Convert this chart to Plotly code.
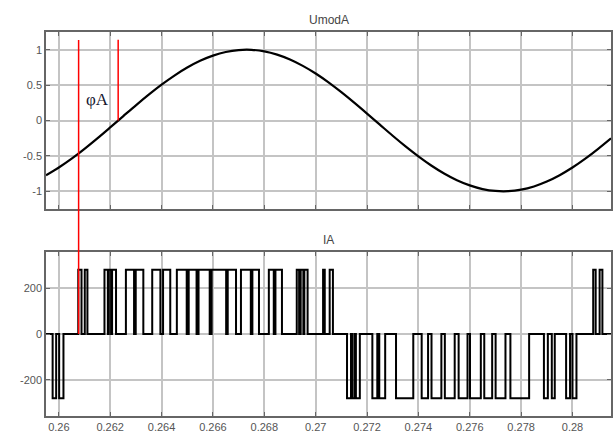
import plotly.graph_objects as go
from plotly.subplots import make_subplots

# ---- Top panel: modulating signal UmodA ----
umod_t = [0.2595 + 0.0005 * i for i in range(45)]
umod_v = [-0.773, -0.664, -0.539, -0.400, -0.252, -0.098, 0.059, 0.215, 0.365,
          0.506, 0.635, 0.748, 0.843, 0.916, 0.968, 0.995, 0.998, 0.977, 0.931,
          0.862, 0.772, 0.664, 0.539, 0.400, 0.252, 0.098, -0.059, -0.215,
          -0.365, -0.506, -0.635, -0.748, -0.843, -0.916, -0.968, -0.995,
          -0.998, -0.977, -0.931, -0.862, -0.772, -0.664, -0.539, -0.400,
          -0.252]

# ---- Bottom panel: phase current IA pulses (start, end, level) ----
pulse_start = [0.259758, 0.260012,
               0.260756, 0.261010, 0.261777, 0.261946, 0.262073, 0.262611,
               0.262994, 0.263636, 0.264058, 0.264595, 0.265056, 0.265440,
               0.265950, 0.266576, 0.267091, 0.267536, 0.268177, 0.268434,
               0.269264, 0.269417, 0.269559, 0.270289, 0.270546,
               0.271221, 0.271440, 0.271567, 0.272208, 0.272477, 0.273129,
               0.274128, 0.274511, 0.275030, 0.275567, 0.276009, 0.276565,
               0.277007, 0.277583, 0.278888, 0.279195, 0.279752, 0.280001,
               0.280807, 0.281057]
pulse_end = [0.259896, 0.260180,
             0.260883, 0.261113, 0.261908, 0.262035, 0.262227, 0.262929,
             0.263290, 0.263954, 0.264338, 0.264979, 0.265363, 0.265874,
             0.266515, 0.266899, 0.267475, 0.267793, 0.268369, 0.268688,
             0.269356, 0.269521, 0.269686, 0.270354, 0.270672,
             0.271375, 0.271529, 0.271720, 0.272400, 0.272707, 0.273801,
             0.274377, 0.274895, 0.275414, 0.275913, 0.276431, 0.276873,
             0.277391, 0.278312, 0.279041, 0.279310, 0.279905, 0.280155,
             0.280903, 0.281165]
pulse_level = [-280, -280] + [280] * 23 + [-280] * 18 + [280, 280]

t_start, t_end = 0.2595, 0.2815

x_ticks = [0.26, 0.262, 0.264, 0.266, 0.268, 0.27, 0.272, 0.274, 0.276, 0.278, 0.28]
x_ticktext = ["0.26", "0.262", "0.264", "0.266", "0.268", "0.27", "0.272",
              "0.274", "0.276", "0.278", "0.28"]
y1_ticks = [-1, -0.5, 0, 0.5, 1]
y1_ticktext = ["-1", "-0.5", "0", "0.5", "1"]
y2_ticks = [-200, 0, 200]
y2_ticktext = ["-200", "0", "200"]

phi_time = 0.26077     # red marker at the current start
zero_time = 0.26231    # red marker at the modulating zero crossing

# build step waveform
ia_x = [t_start]
ia_y = [0]
for s, e, lv in zip(pulse_start, pulse_end, pulse_level):
    ia_x += [s, e]
    ia_y += [lv, 0]
ia_x.append(t_end)
ia_y.append(0)

fig = make_subplots(rows=2, cols=1, shared_xaxes=False, vertical_spacing=0.1)
fig.add_trace(go.Scatter(x=umod_t, y=umod_v, mode="lines",
                         line=dict(color="black", width=2.2, shape="spline"),
                         showlegend=False), row=1, col=1)
fig.add_trace(go.Scatter(x=ia_x, y=ia_y, mode="lines",
                         line=dict(color="black", width=2, shape="hv"),
                         showlegend=False), row=2, col=1)

tickfont = dict(family="Liberation Sans, Arial", size=11, color="#555555")
axis_common = dict(showgrid=True, gridcolor="#c4c4c4", gridwidth=1.5,
                   showline=True, linecolor="#666666", linewidth=1.5,
                   mirror="ticks", ticks="inside", ticklen=4, tickcolor="#666666",
                   zeroline=False, tickfont=tickfont)

fig.update_xaxes(range=[t_start, t_end], tickvals=x_ticks, ticktext=x_ticktext,
                 **axis_common)
fig.update_xaxes(showticklabels=False, row=1, col=1)
fig.update_yaxes(range=[-1.25, 1.25], tickvals=y1_ticks, ticktext=y1_ticktext,
                 row=1, col=1, **axis_common)
fig.update_yaxes(range=[-357, 357], tickvals=y2_ticks, ticktext=y2_ticktext,
                 row=2, col=1, **axis_common)

fig.update_layout(
    width=616, height=438,
    margin=dict(l=46, r=3, t=32, b=22),
    paper_bgcolor="white", plot_bgcolor="white",
    xaxis=dict(domain=[0, 1]), yaxis=dict(domain=[0.539, 1]),
    xaxis2=dict(domain=[0, 1]), yaxis2=dict(domain=[0, 0.427]),
    annotations=[
        dict(text="UmodA", x=0.5, y=1.031, xref="paper", yref="paper",
             xanchor="center", yanchor="middle", showarrow=False,
             font=dict(family="Liberation Sans, Arial", size=12, color="#444444")),
        dict(text="IA", x=0.5, y=0.458, xref="paper", yref="paper",
             xanchor="center", yanchor="middle", showarrow=False,
             font=dict(family="Liberation Sans, Arial", size=12, color="#444444")),
        dict(text="φA", x=0.26150, y=0.30, xref="x", yref="y", showarrow=False,
             xanchor="center", yanchor="middle",
             font=dict(family="Liberation Serif, Times New Roman", size=17, color="#15152e")),
    ],
    shapes=[
        dict(type="line", xref="x", yref="paper", x0=phi_time, x1=phi_time,
             y0=0.2135, y1=0.979, line=dict(color="red", width=1.5)),
        dict(type="line", xref="x", yref="y", x0=zero_time, x1=zero_time,
             y0=0, y1=1.14, line=dict(color="red", width=1.5)),
    ],
)

fig.write_html("out.html", config={"displayModeBar": False},
               post_script="document.body.style.margin='0';document.body.style.overflow='hidden';")
